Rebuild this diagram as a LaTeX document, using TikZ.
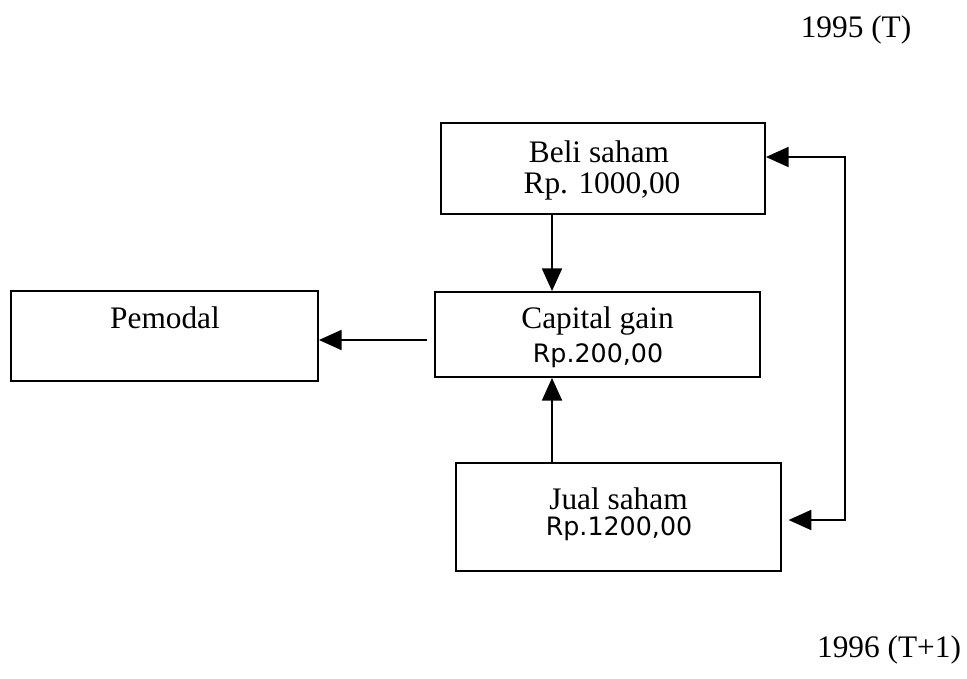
\documentclass[tikz,border=0pt]{standalone}
\usepackage{fontspec}
\setmainfont{Liberation Serif}
\newfontfamily\sansfont{DejaVu Sans}
\usetikzlibrary{arrows.meta}
\begin{document}
\begin{tikzpicture}[x=0.75pt,y=-0.75pt,
  box/.style={draw,line width=1.4pt,inner sep=0pt},
  txt/.style={anchor=base,inner sep=0pt,font=\fontsize{23.5}{28}\selectfont},
  stxt/.style={anchor=base,inner sep=0pt,font=\sansfont\fontsize{19}{23}\selectfont},
  arr/.style={line width=1.4pt,-{Triangle[length=17pt,width=15pt]}},
  arrb/.style={line width=1.4pt,{Triangle[length=17pt,width=15pt]}-{Triangle[length=17pt,width=15pt]}}]
\useasboundingbox (0,0) rectangle (967,678);
% boxes
\node[box,minimum width=243pt,minimum height=68.25pt] (beli) at (603,168.5) {};
\node[box,minimum width=243.75pt,minimum height=63.75pt] (cap) at (597.5,334.5) {};
\node[box,minimum width=230.25pt,minimum height=67.5pt] (pem) at (164.5,336) {};
\node[box,minimum width=243.75pt,minimum height=81pt] (jual) at (618.5,517) {};
% texts
\node[txt] (t1) at (599,162) {Beli saham};
\node[txt] (t2) at (602,193) {Rp. 1000,00};
\node[txt] (t3) at (597.5,328) {Capital gain};
\node[stxt] (t4) at (598,362) {Rp.200,00};
\node[txt] (t5) at (165,328) {Pemodal};
\node[txt] (t6) at (618.5,509) {Jual saham};
\node[stxt] (t7) at (619,535) {Rp.1200,00};
\node[txt] (y1) at (856,37) {1995 (T)};
\node[txt] (y2) at (889,657) {1996 (T+1)};
% helper coordinates
\coordinate (cx) at (552,0);
\coordinate (rx) at (845,0);
\coordinate (ya) at (0,157);
\coordinate (yb) at (0,520);
\coordinate (yp) at (0,340);
% connectors
\draw[arr] (beli.south -| cx) -- (cap.north -| cx);
\draw[arr] (jual.north -| cx) -- (cap.south -| cx);
\draw[arr] ([xshift=-5pt]cap.west |- yp) -- (pem.east |- yp);
\draw[arrb] ([xshift=5pt]jual.east |- yb) -- (rx |- yb) -- (rx |- ya) -- (beli.east |- ya);
\end{tikzpicture}
\end{document}
